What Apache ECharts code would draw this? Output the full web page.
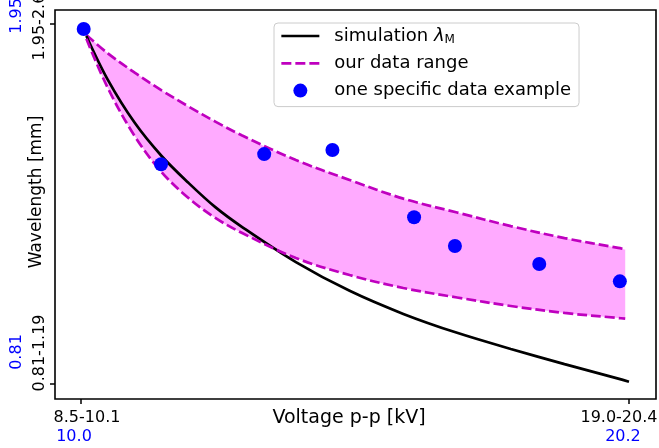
<!DOCTYPE html>
<html>
<head>
<meta charset="utf-8">
<script src="https://cdn.jsdelivr.net/npm/echarts@6/dist/echarts.min.js"></script>
<style>
  html, body { margin: 0; padding: 0; background: #fff; }
  #chart { width: 659px; height: 448px; }
</style>
</head>
<body>
<div id="chart"></div>
<script>
// Simulated wavelength curve (voltage in kV, wavelength in mm)
const simX = [10.1, 10.5, 11, 11.5, 12, 12.5, 13, 14, 15, 16, 17, 18, 19, 20, 20.2];
const simY = [1.912, 1.773, 1.637, 1.532, 1.447, 1.370, 1.307, 1.196, 1.105, 1.032, 0.972, 0.921, 0.873, 0.827, 0.817];

// Measured range envelope
const rangeX = [10.1, 10.5, 11, 11.5, 12, 12.5, 13, 14, 15, 16, 17, 18, 19, 20, 20.13];
const rangeUpper = [1.915, 1.857, 1.796, 1.740, 1.689, 1.641, 1.597, 1.519, 1.456, 1.397, 1.353, 1.310, 1.272, 1.241, 1.236];
const rangeLower = [1.903, 1.747, 1.595, 1.481, 1.399, 1.336, 1.288, 1.209, 1.155, 1.114, 1.084, 1.057, 1.035, 1.019, 1.017];

// One specific measurement run
const sampleX = [10.05, 11.49, 13.41, 14.68, 16.20, 16.96, 18.53, 20.03];
const sampleY = [1.934, 1.506, 1.538, 1.551, 1.338, 1.247, 1.190, 1.135];

// Axis ticks and their labels
const xTicks = [10.0, 20.2];
const xTickRanges = ['8.5-10.1', '19.0-20.4'];
const xTickValues = ['10.0', '20.2'];
const yTicks = [0.81, 1.95];
const yTickRanges = ['0.81-1.19', '1.95-2.61'];
const yTickValues = ['0.81', '1.95'];

const FONT = 'DejaVu Sans';
const MAGENTA = '#bf00bf';
const BAND = '#ffaaff';
const BLUE = '#0000ff';
const LINE_W = 2.7;
const DASH = [10, 4];

const xMin = 9.516, xMax = 20.703;
const yMin = 0.7625, yMax = 1.9943;

const chart = echarts.init(document.getElementById('chart'), null, { renderer: 'canvas' });

const pairs = (xs, ys) => xs.map((x, i) => [x, ys[i]]);
// Wavelength listed first so the band stacks along the wavelength axis
const lowerRows = rangeX.map((x, i) => [rangeLower[i], x]);
const widthRows = rangeX.map((x, i) => [rangeUpper[i] - rangeLower[i], x]);

function tickIndex(ticks, v) {
  let best = 0;
  ticks.forEach((t, i) => { if (Math.abs(t - v) < Math.abs(ticks[best] - v)) best = i; });
  return best;
}

const hiddenMarker = { color: 'rgba(0,0,0,0)', borderColor: 'rgba(0,0,0,0)', borderWidth: 0 };

chart.setOption({
  animation: false,
  backgroundColor: '#fff',
  textStyle: { fontFamily: FONT },
  grid: {
    left: 55, right: 3, top: 10, bottom: 49,
    outerBoundsMode: 'none', containLabel: false,
    show: true, borderColor: '#000', borderWidth: 1.6, backgroundColor: 'transparent'
  },
  legend: {
    left: 274, top: 23,
    orient: 'vertical',
    selectedMode: false,
    itemWidth: 38, itemHeight: 14, itemGap: 7.3,
    padding: [3, 8, 6, 6],
    backgroundColor: 'rgba(255,255,255,0.85)',
    borderColor: '#cccccc', borderWidth: 1, borderRadius: 4,
    data: [
      { name: 'simulation', itemStyle: hiddenMarker, lineStyle: { width: LINE_W } },
      { name: 'our data range', itemStyle: hiddenMarker, lineStyle: { width: LINE_W } },
      { name: 'one specific data example', icon: 'circle' }
    ],
    formatter: name => name === 'simulation' ? 'simulation {i|λ}{s|M}' : name,
    textStyle: {
      fontFamily: FONT, fontSize: 18, color: '#000', lineHeight: 20,
      padding: [0, 0, 0, 10],
      rich: {
        i: { fontFamily: FONT, fontStyle: 'italic', fontSize: 18, lineHeight: 20 },
        s: { fontFamily: FONT, fontSize: 12, lineHeight: 12, verticalAlign: 'bottom' }
      }
    }
  },
  xAxis: [
    {
      type: 'value', min: xMin, max: xMax, position: 'bottom',
      name: 'Voltage p-p [kV]', nameLocation: 'middle', nameGap: 10, nameMoveOverlap: false,
      nameTextStyle: { fontFamily: FONT, fontSize: 19, color: '#000', padding: [0, 13, 0, 0] },
      axisLine: { show: false },
      splitLine: { show: false },
      axisTick: { show: true, customValues: xTicks, length: 5, lineStyle: { color: '#000', width: 1.5 } },
      axisLabel: {
        customValues: xTicks, margin: 11,
        formatter: v => {
          const i = tickIndex(xTicks, v);
          return '{x' + i + '|' + xTickRanges[i] + '}';
        },
        rich: {
          x0: { fontFamily: FONT, fontSize: 16, color: '#000', padding: [0, 0, 0, 12] },
          x1: { fontFamily: FONT, fontSize: 16, color: '#000', padding: [0, 20, 0, 0] }
        }
      }
    },
    {
      type: 'value', min: xMin, max: xMax, position: 'bottom',
      axisLine: { show: false }, axisTick: { show: false }, splitLine: { show: false },
      axisLabel: {
        customValues: xTicks, margin: 30,
        formatter: v => {
          const i = tickIndex(xTicks, v);
          return '{b' + i + '|' + xTickValues[i] + '}';
        },
        rich: {
          b0: { fontFamily: FONT, fontSize: 16, color: BLUE, padding: [0, 14, 0, 0] },
          b1: { fontFamily: FONT, fontSize: 16, color: BLUE, padding: [0, 12, 0, 0] }
        }
      }
    }
  ],
  yAxis: [
    {
      type: 'value', min: yMin, max: yMax, position: 'left',
      name: 'Wavelength [mm]', nameLocation: 'middle', nameGap: 10, nameMoveOverlap: false,
      nameTextStyle: { fontFamily: FONT, fontSize: 17, color: '#000', padding: [0, 0, 0, 25] },
      axisLine: { show: false },
      splitLine: { show: false },
      axisTick: { show: true, customValues: yTicks, length: 5, lineStyle: { color: '#000', width: 1.5 } },
      axisLabel: {
        customValues: yTicks, margin: 7, rotate: 90,
        formatter: v => {
          const i = tickIndex(yTicks, v);
          return '{y' + i + '|' + yTickRanges[i] + '}';
        },
        rich: {
          y0: { fontFamily: FONT, fontSize: 16, color: '#000', padding: [0, 0, 0, 62] },
          y1: { fontFamily: FONT, fontSize: 16, color: '#000', padding: [0, 0, 0, 4] }
        }
      }
    },
    {
      type: 'value', min: yMin, max: yMax, position: 'left',
      axisLine: { show: false }, axisTick: { show: false }, splitLine: { show: false },
      axisLabel: {
        customValues: yTicks, margin: 30, rotate: 90,
        formatter: v => {
          const i = tickIndex(yTicks, v);
          return '{c' + i + '|' + yTickValues[i] + '}';
        },
        rich: {
          c0: { fontFamily: FONT, fontSize: 16, color: BLUE, padding: [0, 0, 0, 64] },
          c1: { fontFamily: FONT, fontSize: 16, color: BLUE, padding: [0, 0, 0, 16] }
        }
      }
    }
  ],
  series: [
    // Lower edge of the range
    {
      name: 'our data range', type: 'line', stack: 'band', z: 4,
      data: lowerRows, encode: { x: 1, y: 0 },
      smooth: 0.35, showSymbol: false, symbol: 'none',
      lineStyle: { color: MAGENTA, width: LINE_W, type: DASH },
      itemStyle: { color: MAGENTA }
    },
    // Upper edge, stacked on the lower edge, with the shaded band between them
    {
      name: 'our data range', type: 'line', stack: 'band', z: 2,
      data: widthRows, encode: { x: 1, y: 0 },
      smooth: 0.35, showSymbol: false, symbol: 'none',
      lineStyle: { color: MAGENTA, width: LINE_W, type: DASH },
      itemStyle: { color: MAGENTA },
      areaStyle: { color: BAND, opacity: 1 }
    },
    {
      name: 'simulation', type: 'line', z: 3,
      data: pairs(simX, simY),
      smooth: 0.35, showSymbol: false, symbol: 'none',
      lineStyle: { color: '#000', width: LINE_W },
      itemStyle: { color: '#000' }
    },
    {
      name: 'one specific data example', type: 'scatter', z: 5,
      data: pairs(sampleX, sampleY),
      symbol: 'circle', symbolSize: 14,
      itemStyle: { color: BLUE, opacity: 1 }
    }
  ]
});
</script>
</body>
</html>
